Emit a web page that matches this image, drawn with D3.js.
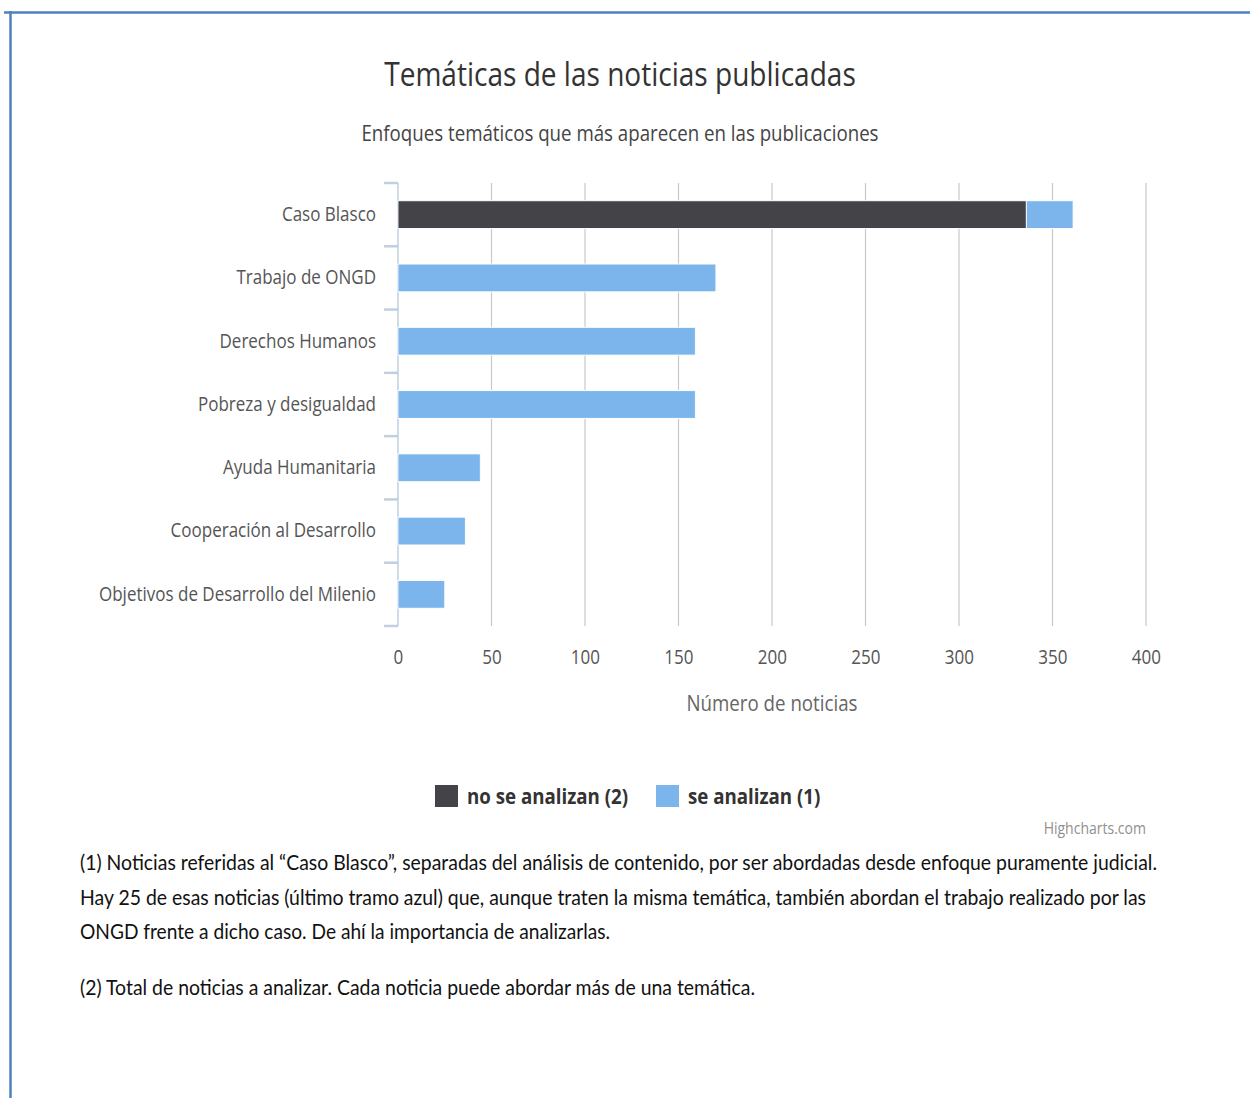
<!DOCTYPE html>
<html>
<head>
<meta charset="utf-8">
<script src="https://cdn.jsdelivr.net/npm/d3@7/dist/d3.min.js"></script>
<style>
html,body{margin:0;padding:0;background:#fff;}
svg{display:block;}
</style>
</head>
<body>
<div id="chart"></div>
<script>
// ---- data ----
const categories = ["Caso Blasco","Trabajo de ONGD","Derechos Humanos","Pobreza y desigualdad","Ayuda Humanitaria","Cooperación al Desarrollo","Objetivos de Desarrollo del Milenio"];
const noSeAnalizan = [336, 0, 0, 0, 0, 0, 0];
const seAnalizan = [25, 170, 159, 159, 44, 36, 25];
const seriesNames = ["no se analizan (2)", "se analizan (1)"];
const xTicks = [0, 50, 100, 150, 200, 250, 300, 350, 400];
const titleText = "Temáticas de las noticias publicadas";
const subtitleText = "Enfoques temáticos que más aparecen en las publicaciones";
const axisTitle = "Número de noticias";
const credits = "Highcharts.com";
const footnotes = [
  "(1) Noticias referidas al “Caso Blasco”, separadas del análisis de contenido, por ser abordadas desde enfoque puramente judicial.",
  "Hay 25 de esas noticias (último tramo azul) que, aunque traten la misma temática, también abordan el trabajo realizado por las",
  "ONGD frente a dicho caso. De ahí la importancia de analizarlas.",
  "(2) Total de noticias a analizar. Cada noticia puede abordar más de una temática."
];

// ---- layout ----
const W = 1250, H = 1098;
const sx = 0.85;               // horizontal condensation of the whole picture
const VW = W / sx;
const X = px => px / sx;        // real px -> virtual x
const colors = ["#434348", "#7cb5ec"];
const font = "'Open Sans', sans-serif";

const svg = d3.select("#chart").append("svg")
  .attr("width", W).attr("height", H)
  .attr("viewBox", `0 0 ${VW} ${H}`)
  .attr("preserveAspectRatio", "none");

// frame
svg.append("line").attr("x1", X(4)).attr("x2", VW).attr("y1", 12.5).attr("y2", 12.5)
  .attr("stroke", "#4f81bd").attr("stroke-width", 2.5);
svg.append("line").attr("x1", X(10.5)).attr("x2", X(10.5)).attr("y1", 11).attr("y2", H)
  .attr("stroke", "#4f81bd").attr("stroke-width", 2.5 / sx);

const plotL = 398, plotR = 1146, plotT = 183, plotB = 626;
const x = d3.scaleLinear().domain([0, 400]).range([X(plotL), X(plotR)]);
const y = d3.scaleBand().domain(categories).range([plotT, plotB]).paddingInner(0.56).paddingOuter(0.28);
const yStep = (plotB - plotT) / categories.length;

// title / subtitle
svg.append("text").attr("x", X(620)).attr("y", 86).attr("text-anchor", "middle")
  .attr("font-family", font).attr("font-size", 33).attr("fill", "#333333").text(titleText);
svg.append("text").attr("x", X(620)).attr("y", 141).attr("text-anchor", "middle")
  .attr("font-family", font).attr("font-size", 22).attr("fill", "#444444").text(subtitleText);

// gridlines
const grid = svg.append("g");
grid.selectAll("line").data(xTicks.filter(t => t > 0)).join("line")
  .attr("x1", d => x(d)).attr("x2", d => x(d))
  .attr("y1", plotT).attr("y2", plotB)
  .attr("stroke", "#c8c8c8").attr("stroke-width", 1.2 / sx);

// x axis labels
const xAxis = d3.axisBottom(x).tickValues(xTicks).tickSize(0).tickPadding(0);
const gx = svg.append("g").attr("transform", `translate(0,${plotB + 38})`).call(xAxis);
gx.select(".domain").remove();
gx.selectAll("text").attr("font-family", font).attr("font-size", 20).attr("fill", "#555555").attr("dy", 0);

// axis title
svg.append("text").attr("x", x(200)).attr("y", 711).attr("text-anchor", "middle")
  .attr("font-family", font).attr("font-size", 22).attr("fill", "#666666").text(axisTitle);

// y axis
const yAxis = d3.axisLeft(y).tickSize(0).tickPadding(0);
const gy = svg.append("g").attr("transform", `translate(${X(376)},0)`).call(yAxis);
gy.select(".domain").remove();
gy.selectAll("text").attr("font-family", font).attr("font-size", 20).attr("fill", "#555555").attr("dy", "0.32em");

svg.append("line").attr("x1", X(plotL)).attr("x2", X(plotL)).attr("y1", plotT).attr("y2", plotB)
  .attr("stroke", "#c0d0e0").attr("stroke-width", 1.5 / sx);
const bounds = d3.range(categories.length + 1).map(i => plotT + i * yStep);
svg.append("g").selectAll("line").data(bounds).join("line")
  .attr("x1", X(384)).attr("x2", X(plotL)).attr("y1", d => d).attr("y2", d => d)
  .attr("stroke", "#c0d0e0").attr("stroke-width", 2.5);

// bars (stacked)
const stackData = categories.map((c, i) => ({cat: c, a: noSeAnalizan[i], b: seAnalizan[i]}));
const stack = d3.stack().keys(["a", "b"])(stackData);
svg.append("g").selectAll("g").data(stack).join("g")
  .attr("fill", (d, i) => colors[i])
  .selectAll("rect").data(d => d.filter(s => s[1] - s[0] > 0)).join("rect")
  .attr("x", d => x(d[0]))
  .attr("width", d => x(d[1]) - x(d[0]))
  .attr("y", d => y(d.data.cat))
  .attr("height", y.bandwidth())
  .attr("stroke", "#ffffff").attr("stroke-width", 1);

// legend
const legendItems = [{name: seriesNames[0], c: colors[0], sq: 435, tx: 467},
                     {name: seriesNames[1], c: colors[1], sq: 656, tx: 688}];
const lg = svg.append("g");
legendItems.forEach(it => {
  lg.append("rect").attr("x", X(it.sq)).attr("y", 785).attr("width", X(23) - X(0)).attr("height", 22).attr("fill", it.c);
  lg.append("text").attr("x", X(it.tx)).attr("y", 804).attr("font-family", font).attr("font-weight", "bold")
    .attr("font-size", 22).attr("fill", "#333333").text(it.name);
});

// credits
svg.append("text").attr("x", X(1146)).attr("y", 834).attr("text-anchor", "end")
  .attr("font-family", font).attr("font-size", 16.5).attr("fill", "#909090").text(credits);

// footnotes
const fnY = [870, 905, 939, 995];
const fnW = [1077, 1066, 530, 675];
svg.append("g").selectAll("text").data(footnotes).join("text")
  .attr("x", X(80)).attr("y", (d, i) => fnY[i])
  .attr("textLength", (d, i) => X(fnW[i])).attr("lengthAdjust", "spacingAndGlyphs")
  .attr("font-family", "Lato, sans-serif").attr("font-size", 22).attr("fill", "#111111").text(d => d);
</script>
</body>
</html>
